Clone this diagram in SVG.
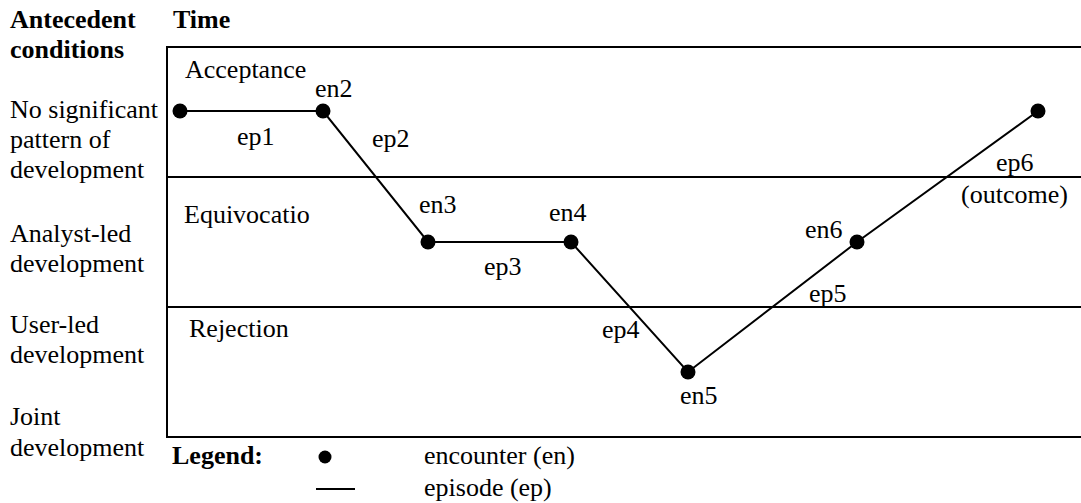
<svg xmlns="http://www.w3.org/2000/svg" width="1081" height="503" viewBox="0 0 1081 503">
<style>
text{font-family:'Liberation Serif','Times New Roman','DejaVu Serif',serif;font-size:26px;fill:#000}
.b{font-weight:bold}
.frame{stroke:#000;stroke-width:2;fill:none}
.ep{stroke:#000;stroke-width:2;fill:none}
.en{fill:#000}
</style>
<rect width="1081" height="503" fill="#fff"/>
<g id="frame">
<path class="frame" d="M1090,47 H167 V437 H1090 M167,177 H1090 M167,307 H1090"/>
</g>
<g font-family="Liberation Serif, serif">
<g id="headings">
<text class="b" x="10" y="28">Antecedent</text>
<text class="b" x="10" y="58">conditions</text>
<text class="b" x="173" y="28">Time</text>
</g>
<g id="conditions">
<text x="10" y="118">No significant</text>
<text x="10" y="148">pattern of</text>
<text x="10" y="178">development</text>
<text x="10" y="242">Analyst-led</text>
<text x="10" y="272">development</text>
<text x="10" y="333">User-led</text>
<text x="10" y="363">development</text>
<text x="10" y="425">Joint</text>
<text x="10" y="456">development</text>
</g>
<g id="bands">
<text x="185" y="78">Acceptance</text>
<text x="184" y="223">Equivocatio</text>
<text x="189" y="337">Rejection</text>
</g>
<g id="connectors">
<polyline class="ep" points="180,111 323,111 428,242 571,242 688,372 857,242 1038,111"/>
</g>
<g id="episode-labels">
<text x="237" y="145">ep1</text>
<text x="372" y="147">ep2</text>
<text x="484" y="275">ep3</text>
<text x="602" y="338">ep4</text>
<text x="809" y="302">ep5</text>
<text x="996" y="171">ep6</text>
<text x="961" y="203">(outcome)</text>
</g>
<g id="en1"><circle class="en" cx="180" cy="111" r="7.5"/></g>
<g id="en2"><circle class="en" cx="323" cy="111" r="7.5"/><text x="315" y="97">en2</text></g>
<g id="en3"><circle class="en" cx="428" cy="242" r="7.5"/><text x="419" y="213">en3</text></g>
<g id="en4"><circle class="en" cx="571" cy="242" r="7.5"/><text x="549" y="221">en4</text></g>
<g id="en5"><circle class="en" cx="688" cy="372" r="7.5"/><text x="680" y="404">en5</text></g>
<g id="en6"><circle class="en" cx="857" cy="242" r="7.5"/><text x="805" y="238">en6</text></g>
<g id="en7"><circle class="en" cx="1038" cy="111" r="7.5"/></g>
<g id="legend">
<text class="b" x="172" y="464">Legend:</text>
<circle class="en" cx="325" cy="457" r="6.5"/>
<line class="ep" x1="316" y1="489" x2="355" y2="489"/>
<text x="424" y="464">encounter (en)</text>
<text x="424" y="496">episode (ep)</text>
</g>
</g>
</svg>
